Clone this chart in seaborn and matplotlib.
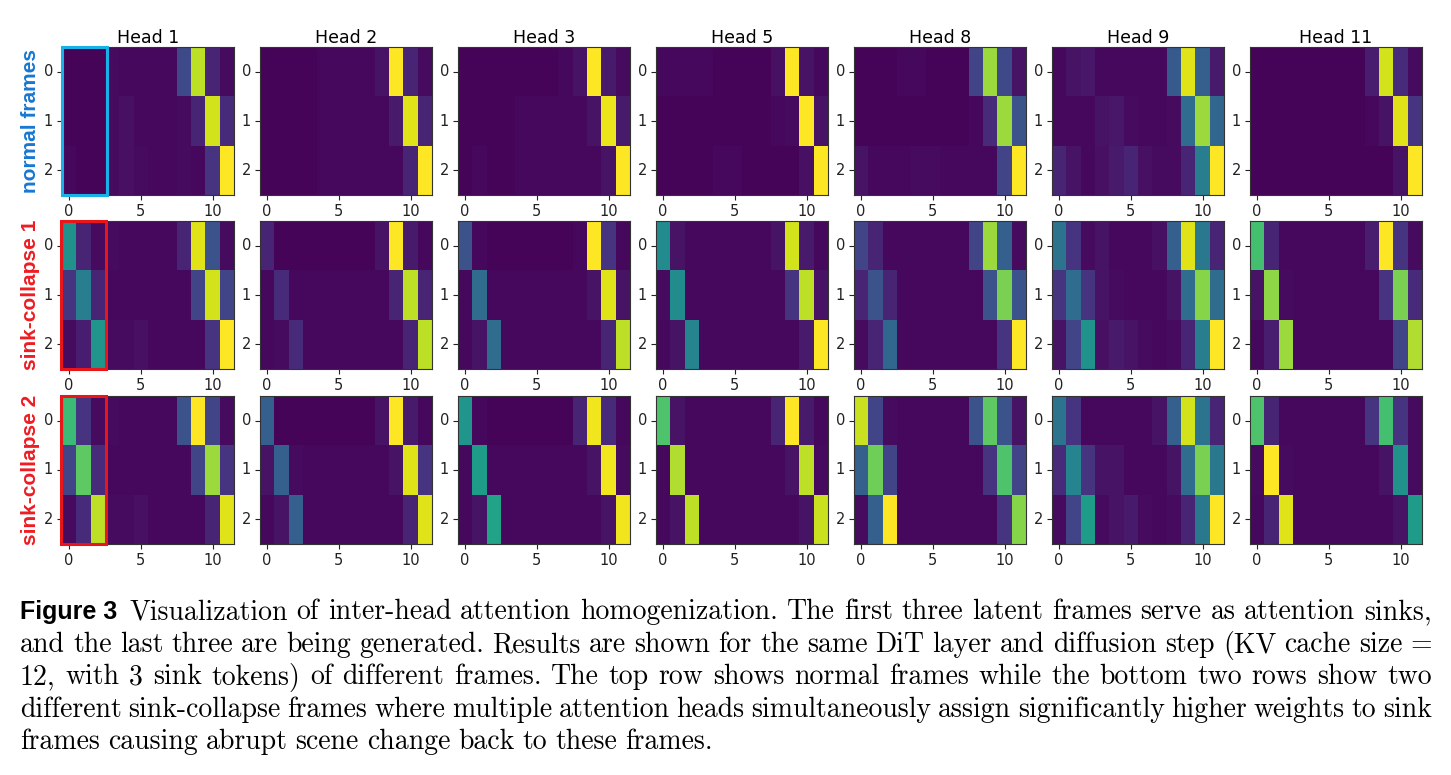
"""Inter-head attention homogenization figure (normal vs sink-collapse frames)."""

import matplotlib

matplotlib.use("Agg")

import matplotlib.pyplot as plt  # noqa: E402
import numpy as np  # noqa: E402
import seaborn as sns  # noqa: E402
from matplotlib.patches import Rectangle  # noqa: E402

HEADS = ["Head 1", "Head 2", "Head 3", "Head 5", "Head 8", "Head 9", "Head 11"]
ROW_LABELS = ["normal frames", "sink-collapse 1", "sink-collapse 2"]
ROW_COLORS = ["#1778d2", "#ee1c22", "#ee1c22"]
XTICKS = [0, 5, 10]
YTICKS = [0, 1, 2]

# attention weights, one 3x12 block per head (rows = generated frames, cols = KV cache slot)
normal_frames = [
    [[0.01, 0.01, 0.01, 0.03, 0.02, 0.02, 0.02, 0.02, 0.22, 0.90, 0.10, 0.03],
     [0.01, 0.01, 0.01, 0.03, 0.04, 0.02, 0.02, 0.02, 0.03, 0.10, 0.93, 0.12],
     [0.02, 0.01, 0.01, 0.03, 0.04, 0.03, 0.02, 0.02, 0.03, 0.02, 0.15, 1.00]],
    [[0.01, 0.01, 0.01, 0.01, 0.02, 0.02, 0.02, 0.02, 0.05, 1.00, 0.10, 0.03],
     [0.01, 0.01, 0.01, 0.01, 0.02, 0.02, 0.02, 0.02, 0.02, 0.07, 0.95, 0.10],
     [0.01, 0.01, 0.01, 0.01, 0.02, 0.02, 0.02, 0.02, 0.02, 0.02, 0.10, 1.00]],
    [[0.01, 0.01, 0.01, 0.01, 0.01, 0.01, 0.01, 0.02, 0.05, 1.00, 0.07, 0.03],
     [0.01, 0.01, 0.01, 0.01, 0.02, 0.02, 0.02, 0.02, 0.02, 0.05, 0.97, 0.07],
     [0.01, 0.02, 0.01, 0.01, 0.02, 0.02, 0.02, 0.02, 0.02, 0.02, 0.05, 1.00]],
    [[0.02, 0.02, 0.02, 0.02, 0.01, 0.01, 0.01, 0.01, 0.04, 1.00, 0.05, 0.02],
     [0.01, 0.01, 0.01, 0.01, 0.01, 0.01, 0.01, 0.01, 0.02, 0.03, 1.00, 0.05],
     [0.01, 0.01, 0.01, 0.01, 0.02, 0.02, 0.01, 0.01, 0.01, 0.01, 0.04, 1.00]],
    [[0.01, 0.01, 0.01, 0.02, 0.02, 0.01, 0.01, 0.01, 0.20, 0.85, 0.22, 0.05],
     [0.01, 0.01, 0.01, 0.01, 0.01, 0.01, 0.01, 0.01, 0.02, 0.12, 0.85, 0.25],
     [0.05, 0.02, 0.02, 0.02, 0.03, 0.03, 0.02, 0.02, 0.02, 0.02, 0.20, 1.00]],
    [[0.02, 0.05, 0.06, 0.02, 0.02, 0.02, 0.02, 0.02, 0.28, 0.95, 0.30, 0.07],
     [0.02, 0.02, 0.02, 0.05, 0.06, 0.03, 0.02, 0.02, 0.03, 0.35, 0.85, 0.33],
     [0.10, 0.05, 0.02, 0.04, 0.07, 0.10, 0.04, 0.03, 0.03, 0.10, 0.42, 1.00]],
    [[0.01, 0.01, 0.01, 0.01, 0.01, 0.01, 0.01, 0.01, 0.08, 0.93, 0.12, 0.03],
     [0.01, 0.01, 0.01, 0.01, 0.01, 0.01, 0.01, 0.01, 0.02, 0.05, 0.95, 0.15],
     [0.01, 0.01, 0.01, 0.01, 0.01, 0.01, 0.01, 0.01, 0.01, 0.01, 0.05, 1.00]],
]

sink_collapse_1 = [
    [[0.50, 0.10, 0.03, 0.03, 0.02, 0.02, 0.02, 0.02, 0.10, 0.95, 0.25, 0.03],
     [0.15, 0.42, 0.10, 0.02, 0.02, 0.02, 0.02, 0.02, 0.02, 0.20, 0.93, 0.20],
     [0.03, 0.08, 0.52, 0.03, 0.03, 0.04, 0.02, 0.02, 0.02, 0.02, 0.15, 1.00]],
    [[0.10, 0.01, 0.01, 0.01, 0.01, 0.01, 0.01, 0.01, 0.05, 1.00, 0.07, 0.02],
     [0.02, 0.12, 0.02, 0.02, 0.02, 0.02, 0.02, 0.02, 0.02, 0.10, 0.90, 0.10],
     [0.02, 0.03, 0.12, 0.02, 0.02, 0.02, 0.02, 0.02, 0.02, 0.02, 0.10, 0.90]],
    [[0.25, 0.02, 0.01, 0.01, 0.01, 0.01, 0.01, 0.01, 0.02, 1.00, 0.15, 0.02],
     [0.02, 0.35, 0.02, 0.02, 0.02, 0.02, 0.02, 0.02, 0.02, 0.05, 0.95, 0.05],
     [0.02, 0.05, 0.35, 0.02, 0.02, 0.02, 0.02, 0.02, 0.02, 0.02, 0.10, 0.90]],
    [[0.48, 0.05, 0.02, 0.02, 0.02, 0.02, 0.02, 0.02, 0.05, 0.93, 0.07, 0.02],
     [0.03, 0.48, 0.02, 0.02, 0.02, 0.02, 0.02, 0.02, 0.02, 0.15, 0.90, 0.05],
     [0.02, 0.05, 0.45, 0.02, 0.02, 0.02, 0.02, 0.02, 0.02, 0.02, 0.07, 1.00]],
    [[0.20, 0.10, 0.02, 0.02, 0.02, 0.02, 0.02, 0.02, 0.20, 0.85, 0.30, 0.03],
     [0.10, 0.25, 0.10, 0.02, 0.02, 0.02, 0.02, 0.02, 0.02, 0.25, 0.80, 0.25],
     [0.03, 0.10, 0.33, 0.02, 0.02, 0.02, 0.02, 0.02, 0.02, 0.02, 0.15, 1.00]],
    [[0.38, 0.15, 0.03, 0.05, 0.02, 0.02, 0.02, 0.04, 0.30, 0.95, 0.40, 0.10],
     [0.15, 0.35, 0.15, 0.05, 0.03, 0.02, 0.02, 0.02, 0.05, 0.35, 0.82, 0.35],
     [0.05, 0.20, 0.50, 0.04, 0.07, 0.05, 0.03, 0.02, 0.03, 0.10, 0.42, 1.00]],
    [[0.70, 0.10, 0.02, 0.02, 0.02, 0.02, 0.02, 0.02, 0.08, 1.00, 0.15, 0.03],
     [0.05, 0.83, 0.03, 0.02, 0.02, 0.02, 0.02, 0.02, 0.02, 0.15, 0.80, 0.12],
     [0.02, 0.08, 0.85, 0.02, 0.02, 0.02, 0.02, 0.02, 0.02, 0.02, 0.20, 0.88]],
]

sink_collapse_2 = [
    [[0.68, 0.15, 0.03, 0.03, 0.02, 0.02, 0.02, 0.02, 0.25, 1.00, 0.20, 0.03],
     [0.20, 0.75, 0.12, 0.02, 0.02, 0.02, 0.02, 0.02, 0.02, 0.20, 0.85, 0.15],
     [0.03, 0.12, 0.90, 0.03, 0.03, 0.04, 0.02, 0.02, 0.02, 0.02, 0.10, 0.95]],
    [[0.30, 0.01, 0.01, 0.01, 0.01, 0.01, 0.01, 0.01, 0.05, 1.00, 0.07, 0.02],
     [0.05, 0.30, 0.03, 0.02, 0.02, 0.02, 0.02, 0.02, 0.02, 0.05, 0.95, 0.15],
     [0.02, 0.05, 0.30, 0.02, 0.02, 0.02, 0.02, 0.02, 0.02, 0.02, 0.10, 0.95]],
    [[0.52, 0.02, 0.01, 0.01, 0.01, 0.01, 0.01, 0.01, 0.10, 0.98, 0.12, 0.02],
     [0.02, 0.55, 0.02, 0.02, 0.02, 0.02, 0.02, 0.02, 0.02, 0.05, 0.98, 0.03],
     [0.02, 0.05, 0.58, 0.02, 0.02, 0.02, 0.02, 0.02, 0.02, 0.02, 0.05, 0.98]],
    [[0.72, 0.05, 0.02, 0.02, 0.02, 0.02, 0.02, 0.02, 0.10, 1.00, 0.07, 0.02],
     [0.02, 0.88, 0.02, 0.02, 0.02, 0.02, 0.02, 0.02, 0.02, 0.05, 0.90, 0.03],
     [0.02, 0.05, 0.90, 0.02, 0.02, 0.02, 0.02, 0.02, 0.02, 0.02, 0.05, 0.92]],
    [[0.92, 0.20, 0.03, 0.02, 0.02, 0.02, 0.02, 0.02, 0.25, 0.75, 0.25, 0.05],
     [0.30, 0.78, 0.20, 0.02, 0.02, 0.02, 0.02, 0.02, 0.02, 0.15, 0.72, 0.20],
     [0.03, 0.30, 1.00, 0.02, 0.02, 0.02, 0.02, 0.02, 0.02, 0.02, 0.15, 0.82]],
    [[0.38, 0.15, 0.02, 0.02, 0.02, 0.02, 0.02, 0.05, 0.30, 0.93, 0.38, 0.10],
     [0.12, 0.45, 0.15, 0.05, 0.05, 0.02, 0.02, 0.02, 0.05, 0.35, 0.80, 0.40],
     [0.03, 0.20, 0.55, 0.03, 0.05, 0.07, 0.03, 0.02, 0.03, 0.10, 0.40, 1.00]],
    [[0.72, 0.10, 0.02, 0.02, 0.02, 0.02, 0.02, 0.02, 0.15, 0.70, 0.15, 0.03],
     [0.03, 1.00, 0.03, 0.02, 0.02, 0.02, 0.02, 0.02, 0.02, 0.05, 0.50, 0.03],
     [0.02, 0.10, 0.95, 0.02, 0.02, 0.02, 0.02, 0.02, 0.02, 0.02, 0.05, 0.55]],
]

CAPTION_LINES = [
    "Visualization of inter-head attention homogenization. The first three latent frames serve as attention sinks,",
    "and the last three are being generated. Results are shown for the same DiT layer and diffusion step (KV cache size =",
    "12, with 3 sink tokens) of different frames. The top row shows normal frames while the bottom two rows show two",
    "different sink-collapse frames where multiple attention heads simultaneously assign significantly higher weights to sink",
    "frames causing abrupt scene change back to these frames.",
]

W_PX, H_PX = 1451, 775
COL_LEFT = [62, 260, 458, 656, 854, 1052, 1250]
ROW_TOP = [47, 221, 396]
AX_W, AX_H = 172, 148


def _px_axes(fig, left, top):
    return fig.add_axes([left / W_PX, 1 - (top + AX_H) / H_PX, AX_W / W_PX, AX_H / H_PX])


def draw_panel(ax, data, title=None):
    sns.heatmap(np.array(data), cmap="viridis", vmin=0, vmax=1, cbar=False, ax=ax)
    ax.set_xticks([t + 0.5 for t in XTICKS])
    ax.set_xticklabels([str(t) for t in XTICKS], rotation=0, fontsize=10.5)
    ax.set_yticks([t + 0.5 for t in YTICKS])
    ax.set_yticklabels([str(t) for t in YTICKS], rotation=0, fontsize=10.5)
    ax.tick_params(length=3.5, width=0.8, pad=3, colors="#222222")
    for s in ax.spines.values():
        s.set_visible(True)
        s.set_linewidth(0.8)
        s.set_color("#333333")
    if title:
        ax.set_title(title, fontsize=12.5, pad=3)


def draw_caption(fig):
    renderer = fig.canvas.get_renderer()
    x0, x1 = 20, 1432
    y_centers = [612, 645, 677, 710, 742]
    serif = dict(family="cmr10", fontsize=20, va="center")
    for i, (line, yc) in enumerate(zip(CAPTION_LINES, y_centers)):
        y = 1 - yc / H_PX
        objs = [fig.text(0, y, w, **serif) for w in line.split(" ")]
        start = x0
        if i == 0:
            label = fig.text(x0 / W_PX, y, "Figure 3", family="Liberation Sans",
                             fontweight="bold", fontsize=18, va="center")
            start = x0 + label.get_window_extent(renderer).width + 12
        widths = [o.get_window_extent(renderer).width for o in objs]
        if i < len(CAPTION_LINES) - 1:
            gap = (x1 - start - sum(widths)) / (len(objs) - 1)
        else:
            gap = 8
        x = start
        for o, w in zip(objs, widths):
            o.set_x(x / W_PX)
            x += w + gap


def main():
    fig = plt.figure(figsize=(W_PX / 100, H_PX / 100), dpi=100, facecolor="white")
    rows = [normal_frames, sink_collapse_1, sink_collapse_2]
    for r, (panels, top) in enumerate(zip(rows, ROW_TOP)):
        for c, (data, left) in enumerate(zip(panels, COL_LEFT)):
            ax = _px_axes(fig, left, top)
            draw_panel(ax, data, HEADS[c] if r == 0 else None)
            if c == 0:
                if r == 0:
                    rect = Rectangle((0.0, 0.0), 3.15, 3, fill=False,
                                     edgecolor="#19b2e6", lw=2.2, clip_on=False, zorder=5)
                else:
                    rect = Rectangle((-0.05, 0.0), 3.1, 3, fill=False,
                                     edgecolor="#e8151b", lw=2.2, clip_on=False, zorder=5)
                ax.add_patch(rect)
        fig.text(30 / W_PX, 1 - (top + AX_H / 2) / H_PX, ROW_LABELS[r], rotation=90,
                 ha="center", va="center", color=ROW_COLORS[r], fontsize=15,
                 fontweight="bold", family="Liberation Sans")

    draw_caption(fig)
    fig.savefig("out.png", dpi=100, facecolor="white")
    plt.close(fig)


if __name__ == "__main__":
    main()
